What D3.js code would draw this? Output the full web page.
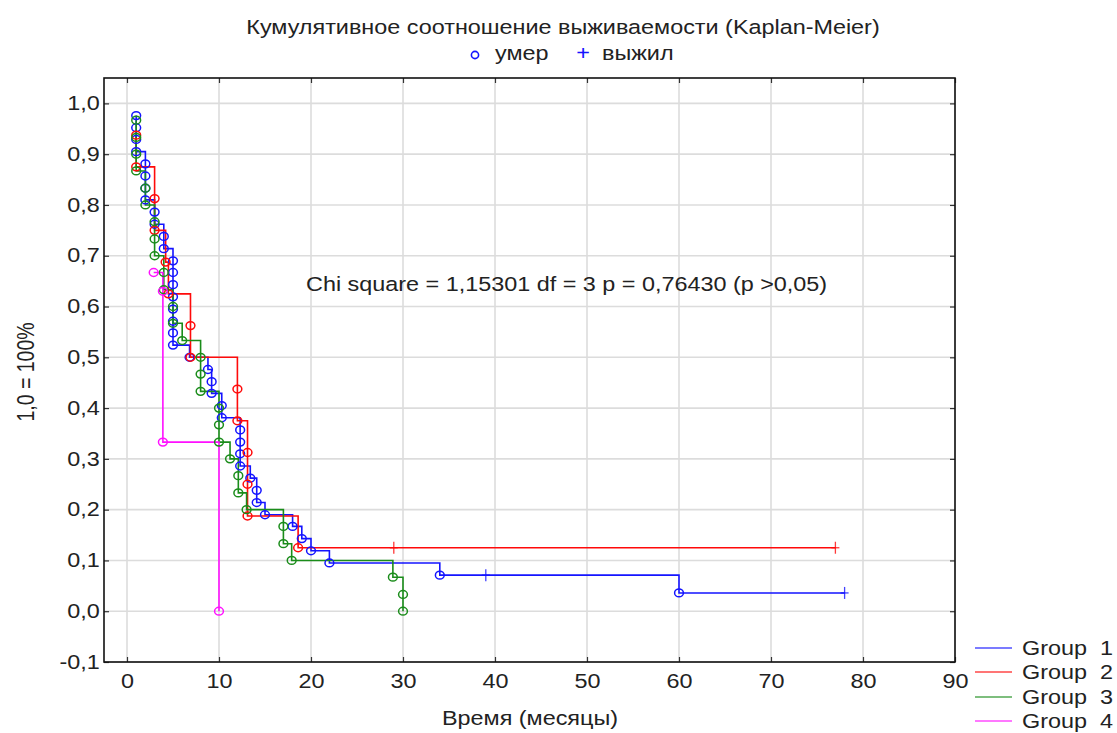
<!DOCTYPE html>
<html><head><meta charset="utf-8">
<script src="https://cdn.jsdelivr.net/npm/d3@7/dist/d3.min.js"></script>
<style>
body{margin:0;background:#fff}
text{font-family:"Liberation Sans",Arial,sans-serif}
</style>
</head><body>
<svg id="c" width="1117" height="733"></svg>
<script>
// ---------- data ----------
const titleText = "Кумулятивное соотношение выживаемости (Kaplan-Meier)";
const markerLegend = ["умер", "выжил"];
const annotation = "Chi square = 1,15301 df = 3 p = 0,76430 (p >0,05)";
const xLabel = "Время (месяцы)";
const yLabel = "1,0 = 100%";
const xTicks = [0, 10, 20, 30, 40, 50, 60, 70, 80, 90];
const yTicks = [-0.1, 0.0, 0.1, 0.2, 0.3, 0.4, 0.5, 0.6, 0.7, 0.8, 0.9, 1.0];
const groupNames = ["Group  1", "Group  2", "Group  3", "Group  4"];
const groupColors = ["#1414ff", "#ff0a0a", "#1a8c1a", "#ff10ff"];

// Group 1: event times (deaths) and survival after each event
const g1Time = [1,1,1,1, 2,2,2,2, 3,3, 4,4, 5,5,5,5,5,5,5,5, 6.8, 8.8, 9.2,9.2, 10.3,10.3, 12.3,12.3,12.3,12.3, 13.4, 14.1,14.1, 15, 18, 19, 20, 22, 34, 60];
const g1Surv = [0.976,0.952,0.929,0.905, 0.881,0.857,0.833,0.810, 0.786,0.762, 0.738,0.714, 0.690,0.667,0.643,0.619,0.595,0.571,0.548,0.524, 0.500, 0.476, 0.452,0.429, 0.405,0.381, 0.357,0.333,0.310,0.286, 0.262, 0.238,0.214, 0.190, 0.167, 0.143, 0.119, 0.095, 0.071, 0.036];
const g1CensTime = [39, 78];
const g1CensSurv = [0.071, 0.036];

// Group 2
const g2Time = [1,1, 3,3, 4.2, 4.5, 6.9,6.9, 12,12, 13.1,13.1,13.1, 18.6];
const g2Surv = [0.9375,0.875, 0.8125,0.75, 0.6875, 0.625, 0.5625,0.5, 0.4375,0.375, 0.3125,0.25,0.1875, 0.125];
const g2CensTime = [29, 77];
const g2CensSurv = [0.125, 0.125];

// Group 3
const g3Time = [1,1,1,1, 2,2, 3,3,3, 4,4, 5,5, 6, 8,8,8, 10,10,10, 11.2, 12.1,12.1, 13, 17,17, 17.9, 28.9, 30,30];
const g3Surv = [0.967,0.933,0.9,0.867, 0.833,0.8, 0.767,0.733,0.7, 0.667,0.633, 0.6,0.567, 0.533, 0.5,0.467,0.433, 0.4,0.367,0.333, 0.3, 0.267,0.233, 0.2, 0.167,0.133, 0.1, 0.067, 0.033,0];
const g3CensTime = [];
const g3CensSurv = [];

// Group 4
const g4Time = [2.9, 3.9, 3.9, 10];
const g4Surv = [0.667, 0.63, 0.333, 0];
const g4CensTime = [];
const g4CensSurv = [];

const series = [
  {t: g1Time, s: g1Surv, ct: g1CensTime, cs: g1CensSurv},
  {t: g2Time, s: g2Surv, ct: g2CensTime, cs: g2CensSurv},
  {t: g3Time, s: g3Surv, ct: g3CensTime, cs: g3CensSurv},
  {t: g4Time, s: g4Surv, ct: g4CensTime, cs: g4CensSurv}
];

// ---------- layout ----------
const FS = 19.5, SX = 1.2, TXT = "#222";
const svg = d3.select("#c");
const L = 104, R = 955, T = 78, B = 662;
const x = d3.scaleLinear().domain([-2.5, 90]).range([L, R]);
const y = d3.scaleLinear().domain([-0.1, 1.05]).range([B, T]);
const fmt = v => v.toFixed(1).replace(".", ",");

function label(g, px, py, str, anchor, fill, rot) {
  const tr = `translate(${px},${py})` + (rot ? ` rotate(${rot}) scale(1,${SX})` : ` scale(${SX},1)`);
  return g.append("text").attr("transform", tr).attr("text-anchor", anchor || "start")
    .attr("dy", "0.35em").attr("font-size", FS).attr("fill", fill || TXT)
    .style("white-space", "pre").text(str);
}

// grid
const grid = svg.append("g");
grid.selectAll(".gx").data(xTicks).enter().append("line")
  .attr("x1", d => x(d)).attr("x2", d => x(d)).attr("y1", T).attr("y2", B)
  .attr("stroke", "#dcdcdc").attr("stroke-width", 1.6);
grid.selectAll(".gy").data(yTicks).enter().append("line")
  .attr("y1", d => y(d)).attr("y2", d => y(d)).attr("x1", L).attr("x2", R)
  .attr("stroke", "#dcdcdc").attr("stroke-width", 1.6);

// axes
function styleAxis(g, hideText) {
  g.select(".domain").remove();
  g.selectAll(".tick line").attr("stroke", "#333").attr("stroke-width", 1.2);
  g.selectAll(".tick text").attr("font-size", FS).attr("fill", TXT)
    .attr("font-family", '"Liberation Sans",Arial,sans-serif')
    .attr("transform", `scale(${SX},1)`);
  if (hideText) g.selectAll(".tick text").remove();
}
const ax = svg.append("g").attr("transform", `translate(0,${B})`)
  .call(d3.axisBottom(x).tickValues(xTicks).tickSize(-5).tickPadding(12).tickFormat(d3.format("d")));
styleAxis(ax);
const ay = svg.append("g").attr("transform", `translate(${L},0)`)
  .call(d3.axisLeft(y).tickValues(yTicks).tickSize(-5).tickPadding(3.5).tickFormat(fmt));
styleAxis(ay);
const axT = svg.append("g").attr("transform", `translate(0,${T})`)
  .call(d3.axisTop(x).tickValues(xTicks).tickSize(-5));
styleAxis(axT, true);
const ayR = svg.append("g").attr("transform", `translate(${R},0)`)
  .call(d3.axisRight(y).tickValues(yTicks).tickSize(-5));
styleAxis(ayR, true);

// frame
svg.append("rect").attr("x", L).attr("y", T).attr("width", R - L).attr("height", B - T)
  .attr("fill", "none").attr("stroke", "#111").attr("stroke-width", 1.6);

// curves (drawn from the first event onward, as in the original)
const line = d3.line().x(d => x(d[0])).y(d => y(d[1])).curve(d3.curveStepAfter);
const plot = svg.append("g");
series.forEach((sr, i) => {
  const col = groupColors[i];
  const pts = sr.t.map((t, j) => [t, sr.s[j]]);
  if (sr.ct.length) pts.push([sr.ct[sr.ct.length - 1], sr.cs[sr.cs.length - 1]]);
  plot.append("path").attr("d", line(pts)).attr("fill", "none")
    .attr("stroke", col).attr("stroke-width", 1.6);
});
series.forEach((sr, i) => {
  const col = groupColors[i];
  plot.append("g").selectAll("ellipse").data(sr.t.map((t, j) => [t, sr.s[j]])).enter()
    .append("ellipse").attr("cx", d => x(d[0])).attr("cy", d => y(d[1]))
    .attr("rx", 4.4).attr("ry", 3.9).attr("fill", "none").attr("stroke", col).attr("stroke-width", 1.5);
  const cg = plot.append("g").selectAll("g").data(sr.ct.map((t, j) => [t, sr.cs[j]])).enter()
    .append("g").attr("transform", d => `translate(${x(d[0])},${y(d[1])})`);
  cg.append("line").attr("x1", 0).attr("x2", 0).attr("y1", -6).attr("y2", 6).attr("stroke", col).attr("stroke-width", 1.3).attr("opacity", 0.8);
  cg.append("line").attr("x1", -4).attr("x2", 4).attr("y1", 0).attr("y2", 0).attr("stroke", col).attr("stroke-width", 1.3).attr("opacity", 0.8);
});

// texts
label(svg, 563, 27, titleText, "middle");
svg.append("circle").attr("cx", 475).attr("cy", 55).attr("r", 3.6).attr("fill", "none").attr("stroke", "#1414ff").attr("stroke-width", 1.6);
label(svg, 495, 53, markerLegend[0], "start");
label(svg, 583, 53, "+", "middle", "#1414ff");
label(svg, 602, 53, markerLegend[1], "start");
label(svg, 306, 284, annotation, "start");
label(svg, 530, 718, xLabel, "middle");
label(svg, 26, 372, yLabel, "middle", TXT, -90);

// legend
const lg = svg.append("g");
const rowsY = [648, 672, 697, 721];
groupNames.forEach((n, i) => {
  lg.append("line").attr("x1", 975).attr("x2", 1012).attr("y1", rowsY[i]).attr("y2", rowsY[i])
    .attr("stroke", groupColors[i]).attr("stroke-width", 1.4).attr("opacity", 0.75);
  label(lg, 1022, rowsY[i], n, "start");
});
</script>
</body></html>
